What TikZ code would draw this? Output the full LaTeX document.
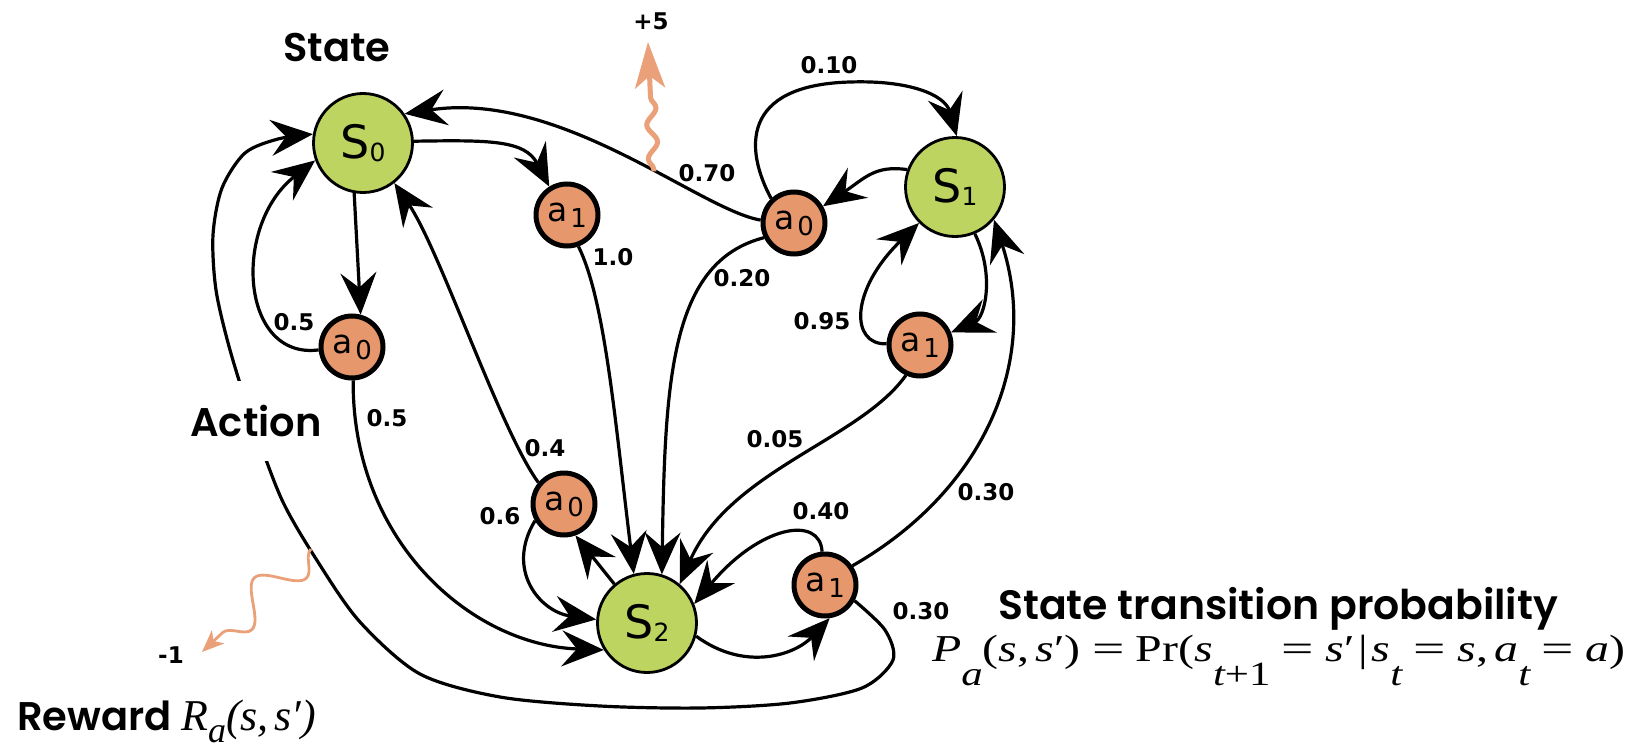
\documentclass[tikz,border=0pt]{standalone}
\usepackage{fontspec}
\usepackage{graphicx}
\usetikzlibrary{arrows.meta,decorations.pathmorphing}
\newfontfamily\dvfont{DejaVu Sans}
\newfontfamily\tmsfont{Liberation Serif}
\IfFontExistsTF{Poppins SemiBold}{\newfontfamily\popfont{Poppins SemiBold}}{\newfontfamily\popbase{Poppins}\newcommand\popfont{\popbase\bfseries}}
\definecolor{stgreen}{RGB}{190,212,96}
\definecolor{actorange}{RGB}{230,152,108}
\definecolor{wavec}{RGB}{234,160,120}
\newcommand\stlab[1]{{\fontsize{46}{46}\selectfont S}\raisebox{-3pt}{\fontsize{25}{25}\selectfont #1}}
\newcommand\aclab[1]{{\fontsize{33}{33}\selectfont a}\kern3pt\raisebox{-6pt}{\fontsize{26}{26}\selectfont #1}}
\newcommand\fsub[1]{\raisebox{-24pt}{\fontsize{34}{34}\selectfont\itshape #1}}
\newcommand\feq{\hspace{9pt}\scalebox{1.2}[1]{=}\hspace{9pt}}
\begin{document}
\begin{tikzpicture}[x=1pt,y=-1pt,
  state/.style={circle, draw=black, line width=2.8pt, fill=stgreen, minimum size=99pt, inner sep=0pt, font=\dvfont},
  act/.style={circle, draw=black, line width=5pt, fill=actorange, minimum size=62pt, inner sep=0pt, font=\dvfont},
  arr/.style={line width=3.2pt, -{Stealth[length=42pt,width=36pt,inset=15pt]}},
  plab/.style={font=\dvfont\bfseries\fontsize{23}{23}\selectfont, inner sep=0pt},
  title/.style={font=\popfont\fontsize{40}{40}\selectfont, inner sep=0pt},
  wavefive/.style={draw=wavec, line width=5pt, decorate,
    decoration={snake, amplitude=5pt, segment length=34pt, pre length=2pt, post length=50pt},
    -{Stealth[length=46pt,width=30pt,inset=12pt]}},
  waveone/.style={draw=wavec, line width=2.8pt, decorate,
    decoration={snake, amplitude=18pt, segment length=75pt, pre length=0pt, post length=24pt},
    -{Stealth[length=22pt,width=18pt,inset=6pt]}}
]
\useasboundingbox (0,0) rectangle (1642,752);

% states and actions
\node[state] (S0) at (363,143) {\stlab{0}};
\node[state] (S1) at (955,187) {\stlab{1}};
\node[state] (S2) at (647,623) {\stlab{2}};
\node[act] (a1T) at (567,215) {\aclab{1}};
\node[act] (a0L) at (352,347) {\aclab{0}};
\node[act] (a0B) at (564,504) {\aclab{0}};
\node[act] (a0R) at (794,223) {\aclab{0}};
\node[act] (a1R) at (920,345) {\aclab{1}};
\node[act] (a1B) at (825,585) {\aclab{1}};

% transitions
\draw[arr] (S0.-100) -- (a0L.75);
\draw[arr] (a0L.185) .. controls (240,360) and (232,225) .. (S0.200);
\draw[arr] (a0L.-88) .. controls (352,540) and (470,645) .. (S2.212);
\draw[arr] (S0.2) .. controls (490,140) and (525,140) .. (a1T.122);
\draw[arr] (a1T.-70) .. controls (605,300) and (615,420) .. (S2.105);
\draw[arr] (a0B.140) .. controls (500,430) and (440,250) .. (S0.-52);
\draw[arr] (a0B.-150) .. controls (505,570) and (540,612) .. (S2.176);
\draw[arr] (S2.130) -- (a0B.-70);
\draw[arr] (S2.-15) .. controls (745,672) and (795,655) .. (a1B.-82);
\draw[arr] (a1B.95) .. controls (820,515) and (760,525) .. (S2.22);
\draw[arr] (a1B.35) .. controls (985,490) and (1040,360) .. (S1.-40);
\draw[arr] (a0R.175) .. controls (700,210) and (560,90) .. (S0.35) coordinate[pos=0.4] (w5);
\draw[arr] (a0R.133) .. controls (745,150) and (740,85) .. (850,82) .. controls (910,80) and (945,95) .. (S1.88);
\draw[arr] (a0R.206) .. controls (670,262) and (665,380) .. (S2.73);
\draw[arr] (S1.160) .. controls (875,165) and (865,178) .. (a0R.30);
\draw[arr] (S1.-67) .. controls (995,275) and (985,318) .. (a1R.22);
\draw[arr] (a1R.178) .. controls (850,345) and (850,290) .. (S1.225);
\draw[arr] (a1R.-115) .. controls (860,440) and (730,470) .. (S2.50);
\draw[arr] plot[smooth, tension=0.5] coordinates {(a1B.-28) (885,630) (893,660) (862,688) (790,703) (700,708) (600,706) (500,697) (420,674) (360,622) (318,562) (282,500) (252,420) (230,350) (216,290) (213,235) (222,188) (245,153) (278,139) (S0.170)};

% rewards
\coordinate (p5) at (648,42);
\draw[wavefive] (w5) -- (p5);
\coordinate (w1) at (311,549);
\coordinate (m1) at (202,652);
\draw[waveone] (w1) -- (m1);
\node[plab] (r5) at (651,21) {+5};
\node[plab] (r1) at (171,655) {-1};

% probabilities
\node[plab] (l010) at (829,65) {0.10};
\node[plab] (l070) at (707,173) {0.70};
\node[plab] (l020) at (742,278) {0.20};
\node[plab] (l095) at (822,321) {0.95};
\node[plab] (l10) at (613,257) {1.0};
\node[plab] (l05a) at (294,322) {0.5};
\node[plab] (l05b) at (387,418) {0.5};
\node[plab] (l04) at (545,448) {0.4};
\node[plab] (l06) at (500,516) {0.6};
\node[plab] (l005) at (775,439) {0.05};
\node[plab] (l030a) at (986,492) {0.30};
\node[plab] (l040) at (821,511) {0.40};
\node[plab] (l030b) at (921,611) {0.30};

% titles
\node[title, anchor=base] (tState) at (337,62) {State};
\node[title, fill=white, inner xsep=3pt, inner ysep=24pt] (tAction) at (256,421) {Action};
\node[title, anchor=base west] (tReward) at (17,730) {Reward {\tmsfont\itshape\fontsize{44}{44}\selectfont R\raisebox{-12pt}{\fontsize{36}{36}\selectfont a}(s,\hspace{6pt}s′)}};
\node[title, anchor=base west, font=\popfont\fontsize{41}{41}\selectfont] (tSTP) at (998,619) {\raisebox{0pt}[\height][8pt]{State transition probability}};
\node[anchor=base west, inner sep=0pt, font=\tmsfont\fontsize{38}{38}\selectfont] (tFormula) at (932,661) {\raisebox{0pt}[26pt][\depth]{\scalebox{1.26}[1]{\textit{P}\fsub{a}(\textit{s},\hspace{5pt}\textit{s}′)\feq Pr(\textit{s}\fsub{t\upshape +1}\feq\textit{s}′\hspace{3pt}|\hspace{3pt}\textit{s}\fsub{t}\feq\textit{s},\hspace{5pt}\textit{a}\fsub{t}\feq\textit{a})}}};
\end{tikzpicture}
\end{document}
